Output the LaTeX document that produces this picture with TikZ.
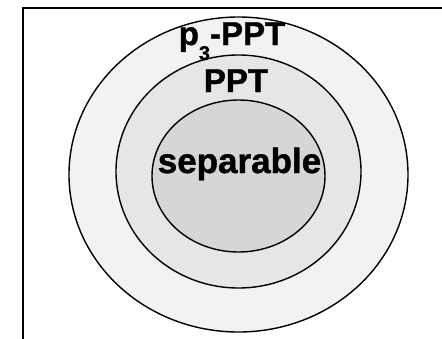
\documentclass[tikz,border=0pt]{standalone}
\usepackage{fontspec}
\setmainfont{Liberation Sans}
\newfontfamily\heavysans[FakeBold=1.2]{Liberation Sans Bold}
\begin{document}
\begin{tikzpicture}[x=1pt,y=-1pt,
  ring/.style={draw=black, line width=1.4pt},
  lbl/.style={anchor=base, inner sep=0pt}]
\useasboundingbox (0,0) rectangle (442,338);
\begin{scope}
\clip (0,0) rectangle (442,338);
\draw[line width=2.4pt] (23,8) rectangle (470,370);
\end{scope}
\path[ring, fill={rgb,255:red,242;green,242;blue,242}] (238.5,174.5) ellipse [x radius=169.5, y radius=157.5];
\path[ring, fill={rgb,255:red,230;green,230;blue,230}] (238.5,171.5) ellipse [x radius=122.5, y radius=116.5];
\path[ring, fill={rgb,255:red,214;green,214;blue,214}] (238.5,176) ellipse [x radius=86.5, y radius=76];
\node[lbl, font=\heavysans\fontsize{33}{33}\selectfont] (p3ppt) at (232,45) {p\raisebox{-15pt}{\fontsize{20}{20}\selectfont 3}-PPT};
\node[lbl, font=\heavysans\fontsize{33}{33}\selectfont] (ppt) at (236,92) {PPT};
\node[lbl, font=\heavysans\fontsize{35}{35}\selectfont] (sep) at (239.5,173) {separable};
\end{tikzpicture}
\end{document}
